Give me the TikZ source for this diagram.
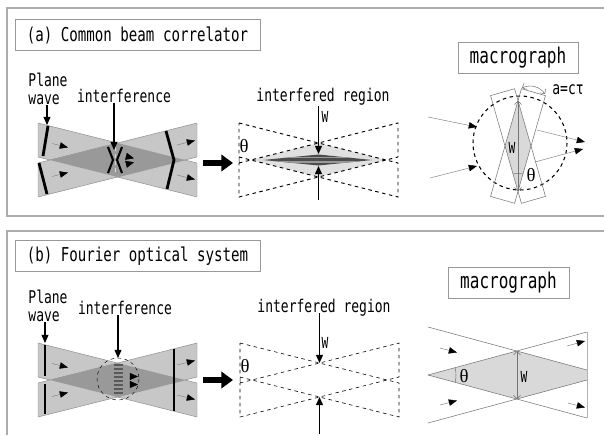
\documentclass[tikz,border=0pt]{standalone}
\usepackage{fontspec}
\newfontfamily\gothic[FakeStretch=0.74]{DejaVu Sans Mono}
\newfontfamily\grk{Liberation Serif}
\usetikzlibrary{arrows.meta}

\begin{document}
\begin{tikzpicture}[
  x=0.03cm, y=-0.03cm,
  frame/.style={draw=black!32, line width=0.9pt},
  titlebox/.style={draw=black!40, line width=0.6pt, minimum height=0.95cm,
    font=\gothic\fontsize{16.3}{18}\selectfont},
  macrobox/.style={titlebox, font=\gothic\fontsize{18.5}{20}\selectfont},
  lbl/.style={font=\gothic\fontsize{15}{15.5}\selectfont, inner sep=0pt},
  wlbl/.style={font=\gothic\fontsize{13}{14}\selectfont, inner sep=0pt},
  ang/.style={font=\grk\fontsize{16}{18}\selectfont, inner sep=0pt},
  beam/.style={fill=black!22, draw=black!45, line width=0.4pt},
  overlap/.style={fill=black!40},
  wave/.style={line width=2.4pt},
  prop/.style={draw=black!50, line width=0.4pt, -{Triangle[length=7pt, width=5.5pt, color=black]}},
  pointer/.style={line width=0.9pt, -{Triangle[length=7pt, width=6pt]}},
  bigarrow/.style={line width=5pt, -{Triangle[length=10pt, width=14pt]}},
  dashline/.style={dashed, line width=0.8pt},
  thinline/.style={draw=black!55, line width=0.45pt},
  wdim/.style={draw=black!55, line width=0.45pt,
    {Straight Barb[length=3pt]}-{Straight Barb[length=3pt]}}
]
\useasboundingbox (0,0) rectangle (604,435);

% frames and titles
\draw[frame] (604,8) -| (7,216) -- (604,216);
\draw[frame] (604,231) -| (7,435);
\node[titlebox, minimum width=7.35cm] (ta) at (137.5,35) {(a) Common beam correlator};
\node[macrobox, minimum width=3.6cm] (ma) at (518,58) {macrograph};
\node[titlebox, minimum width=7.35cm] (tb) at (137.5,256) {(b) Fourier optical system};
\node[macrobox, minimum width=3.63cm, minimum height=0.93cm] (mb) at (508.5,282.5) {macrograph};

%% (a) common beam correlator
% beams
\path[beam] (38,123) -- (197,163) -- (197,197) -- (38,157) -- cycle;
\path[beam] (38,163) -- (197,123) -- (197,157) -- (38,197) -- cycle;
\fill[overlap] (49.9,160) -- (117.5,143) -- (185.1,160) -- (117.5,177) -- cycle;
% wavefronts
\draw[wave] (48,126) -- (43,156);
\draw[wave] (39,163) -- (47,194);
\draw[wave, line join=miter] (166,131) -- (174,160) -- (167,189);
\draw[wave, line width=1.8pt] (108,147) -- (113,160) -- (108,173);
\draw[wave, line width=1.8pt] (122,147) -- (117,160) -- (122,173);
\draw[black!15, dashed, line width=0.8pt] (115,147) -- (115,173);
\draw[-{Triangle[length=7pt, width=6pt]}] (126,156.3) -- (134,158.3);
\draw[-{Triangle[length=7pt, width=6pt]}] (126,164.3) -- (134,162.3);
% propagation
\draw[prop] (52,143.5) -- (68,147.5);
\draw[prop] (52,176.5) -- (68,172.5);
\draw[prop] (177,145) -- (195,140.5);
\draw[prop] (177,175) -- (195,179.5);
% labels
\node[lbl, align=left] (pwa) at (48,89) {Plane\\wave};
\coordinate (wfa) at (47,125);
\draw[pointer] (pwa.south -| wfa) -- (wfa);
\node[lbl] (ifa) at (124,96) {interference};
\coordinate (fra) at (114,150);
\draw[pointer] (ifa.south -| fra) -- (fra);
\coordinate (ba1) at (203,163);
\coordinate (ba2) at (233,163);
\draw[bigarrow] (ba1) -- (ba2);

% interfered region
\fill[black!12] (251,160) -- (318.5,143) -- (386,160) -- (318.5,177) -- cycle;
\begin{scope}
  \clip (263,160) -- (318.5,154.5) -- (372,160) -- (318.5,165.5) -- cycle;
  \fill[black!70] (263,150) rectangle (372,170);
  \draw[black!40, line width=0.9pt] (263,157.5) -- (372,157.5) (263,162) -- (372,162);
\end{scope}
\draw[dashline] (239,123) -- (398,163) -- (398,197) -- (239,157) -- cycle;
\draw[dashline] (239,163) -- (398,123) -- (398,157) -- (239,197) -- cycle;
\coordinate (lna) at (251,160);
\draw[thin] ([shift={(166:12)}]lna) arc[start angle=166, end angle=194, radius=12];
\node[ang] (tha) at (244,146) {θ};
\node[lbl] (ira) at (323,97) {interfered region};
\node[wlbl] (wa) at (325,117) {W};
\coordinate (wt0) at (318.5,106);
\coordinate (wta) at (318.5,154);
\coordinate (wb0) at (318.5,200);
\coordinate (wba) at (318.5,166);
\draw[pointer] (wt0) -- (wta);
\draw[pointer] (wb0) -- (wba);

% macrograph (a)
\fill[black!15] (518,100.7) -- (531,146) -- (518,191.3) -- (505,146) -- cycle;
\draw[dashline, line width=0.9pt] (520,143) circle[radius=47];
\draw[thinline, shift={(518,146)}, rotate=16] (-12.5,-56) rectangle (12.5,56);
\draw[thinline, shift={(518,146)}, rotate=-16] (-12.5,-56) rectangle (12.5,56);
\coordinate (mta) at (518,100.7);
\coordinate (mba) at (518,191.3);
\draw[wdim] (mta) -- (mba);
\node[wlbl] (mwa) at (512,148) {W};
\draw[thinline] ([shift={(-106:18)}]mba) arc[start angle=-106, end angle=-74, radius=18];
\node[ang] (thma) at (531,175) {θ};
\coordinate (ac1) at (522,88);
\coordinate (ac2) at (545,94);
\draw[wdim] (ac1) to[bend left=40] (ac2);
\node[lbl] (act) at (568,90) {a=cτ};
\coordinate (ia1) at (428,117);
\coordinate (ia2) at (477,127);
\coordinate (ib1) at (430,178);
\coordinate (ib2) at (477,166);
\coordinate (oa1) at (537,130);
\coordinate (oa2) at (585,142);
\coordinate (ob1) at (535,162);
\coordinate (ob2) at (583,149);
\draw[prop] (ia1) -- (ia2);
\draw[prop] (ib1) -- (ib2);
\draw[prop] (oa1) -- (oa2);
\draw[prop] (ob1) -- (ob2);

%% (b) Fourier optical system
\begin{scope}[shift={(0,220)}]
  \path[beam] (38,123) -- (197,163) -- (197,197) -- (38,157) -- cycle;
  \path[beam] (38,163) -- (197,123) -- (197,157) -- (38,197) -- cycle;
  \fill[overlap] (49.9,160) -- (117.5,143) -- (185.1,160) -- (117.5,177) -- cycle;
  \foreach \yy in {145,149,...,173}
    \draw[black!65, line width=1.5pt] (114,\yy) -- (123,\yy);
  \draw[dashed, thin] (118,159) circle[radius=21];
  \draw[wave] (45,125) -- (45,156);
  \draw[wave] (45,164) -- (45,194);
  \draw[wave] (174,129) -- (174,191);
  \draw[-{Triangle[length=7pt, width=6pt]}] (130,156.5) -- (138,156.5);
  \draw[-{Triangle[length=7pt, width=6pt]}] (130,164.5) -- (138,164.5);
  \draw[prop] (52,143.5) -- (68,147.5);
  \draw[prop] (52,176.5) -- (68,172.5);
  \draw[prop] (177,145) -- (195,140.5);
  \draw[prop] (177,175) -- (195,179.5);
  \node[lbl, align=left] (pwb) at (48,86) {Plane\\wave};
  \coordinate (wfb) at (45,123);
  \draw[pointer] (pwb.south -| wfb) -- (wfb);
  \node[lbl] (ifb) at (125,88) {interference};
  \coordinate (frb) at (118,138);
  \draw[pointer] (ifb.south -| frb) -- (frb);
  \coordinate (bb1) at (203,160);
  \coordinate (bb2) at (233,160);
  \draw[bigarrow] (bb1) -- (bb2);
  % interfered region
  \draw[dashed, line width=0.5pt] (240,123) -- (399,163) -- (399,197) -- (240,157) -- cycle;
  \draw[dashed, line width=0.5pt] (240,163) -- (399,123) -- (399,157) -- (240,197) -- cycle;
  \coordinate (lnb) at (252,160);
  \draw[thin] ([shift={(166:12)}]lnb) arc[start angle=166, end angle=194, radius=12];
  \node[ang] (thb) at (245,146) {θ};
  \node[lbl] (irb) at (324,88) {interfered region};
  \node[wlbl] (wb) at (325,123) {W};
  \coordinate (vt0) at (319.5,93);
  \coordinate (vta) at (319.5,143);
  \coordinate (vb0) at (319.5,214);
  \coordinate (vba) at (319.5,177);
  \draw[pointer] (vt0) -- (vta);
  \draw[pointer] (vb0) -- (vba);
\end{scope}

% macrograph (b)
\fill[black!15] (428,375) -- (517,351) -- (587,370) -- (587,380) -- (517,399) -- cycle;
\draw[thinline] (428,327) -- (587,370);
\draw[thinline] (428,375) -- (587,418);
\draw[thinline] (428,375) -- (587,332);
\draw[thinline] (428,423) -- (587,380);
\draw[draw=black!30, line width=0.8pt] (587,332) -- (587,418);
\coordinate (lvb) at (428,375);
\coordinate (mtb) at (517,351);
\coordinate (mbb) at (517,399);
\draw[wdim] (mtb) -- (mbb);
\node[wlbl] (mwb) at (524,377) {W};
\draw[thinline] ([shift={(-15:28)}]lvb) arc[start angle=-15, end angle=15, radius=28];
\node[ang] (thmb) at (464,376) {θ};
\coordinate (ja1) at (440,348);
\coordinate (ja2) at (457,352.5);
\coordinate (jb1) at (440,405);
\coordinate (jb2) at (457,400.5);
\coordinate (pa1) at (567,346);
\coordinate (pa2) at (585,341);
\coordinate (pb1) at (568,403);
\coordinate (pb2) at (585,407.5);
\draw[prop] (ja1) -- (ja2);
\draw[prop] (jb1) -- (jb2);
\draw[prop] (pa1) -- (pa2);
\draw[prop] (pb1) -- (pb2);
\end{tikzpicture}
\end{document}
